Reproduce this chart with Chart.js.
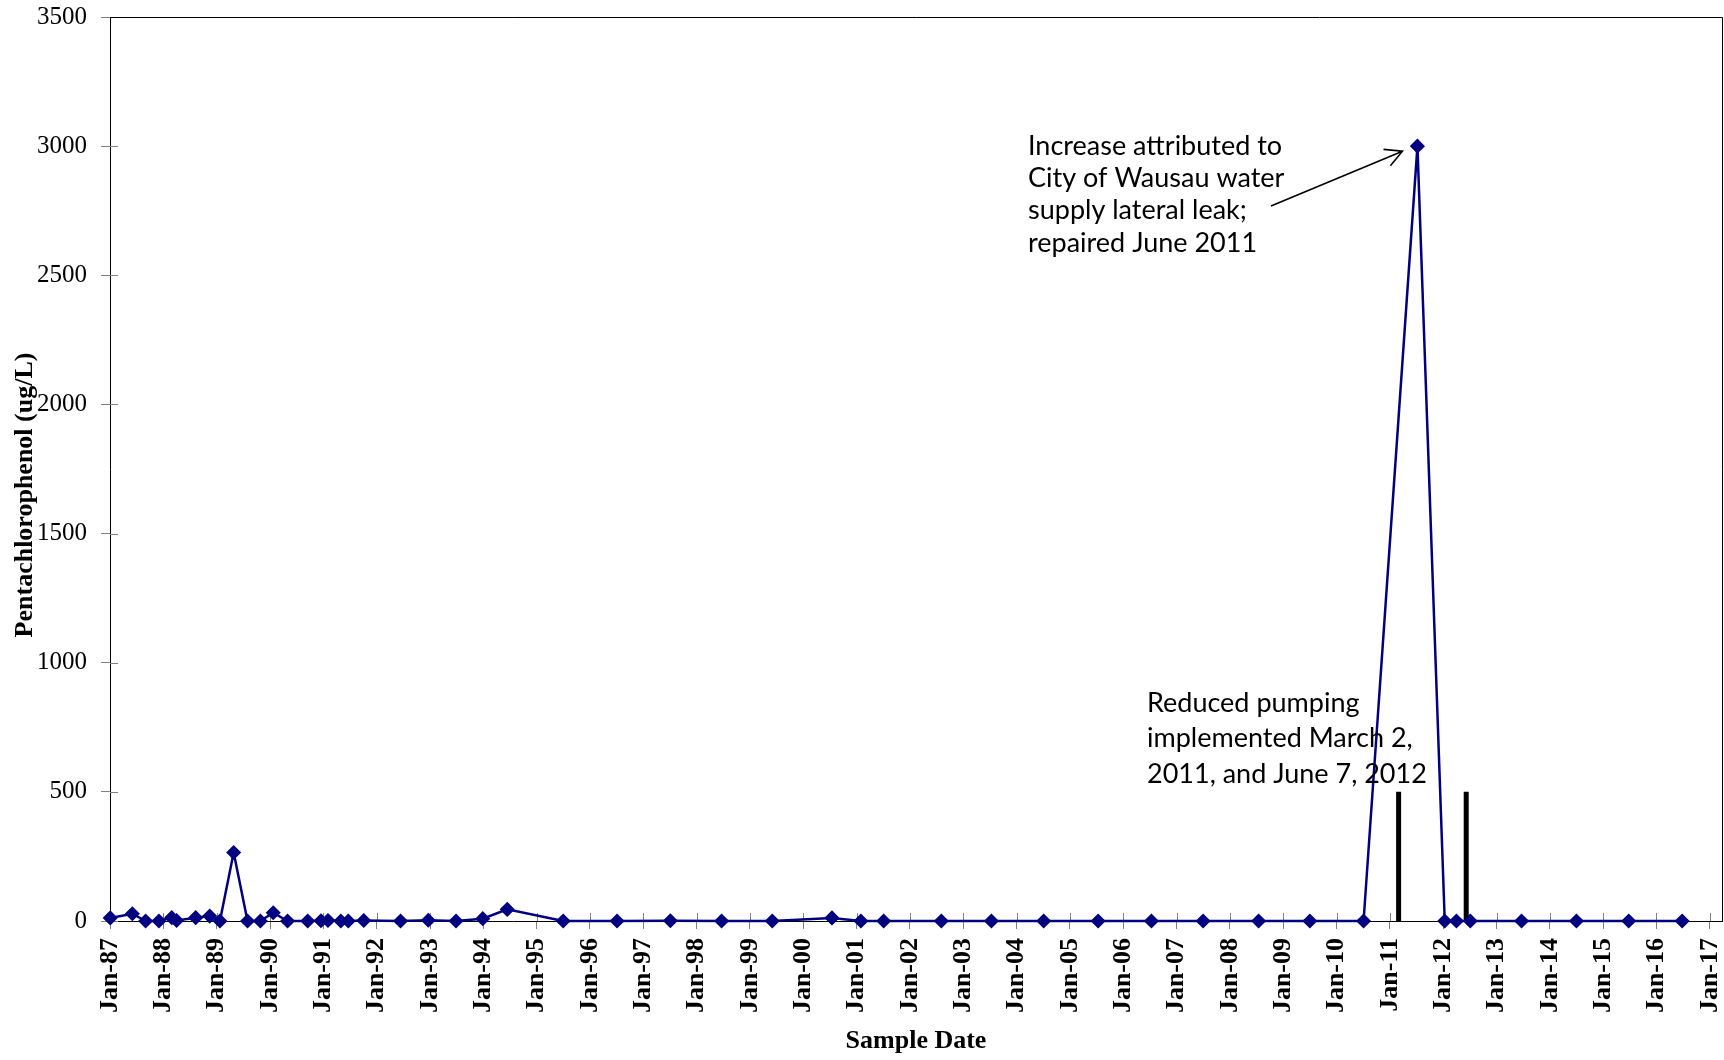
<!DOCTYPE html>
<html>
<head>
<meta charset="utf-8">
<title>Pentachlorophenol</title>
<script src="https://cdn.jsdelivr.net/npm/chart.js@4.4.1/dist/chart.umd.min.js"></script>
<style>
  html, body { margin: 0; padding: 0; background: #fff; overflow: hidden; }
  #wrap { width: 1724px; height: 1060px; position: relative; }
  #pcpChart { display: block; }
</style>
</head>
<body>
<div id="wrap"><canvas id="pcpChart"></canvas></div>
<script>
// Sample dates and pentachlorophenol results (ug/L)
var sampleDates = [
  '1987-01-03', '1987-06-03', '1987-09-02', '1987-12-02',
  '1988-02-28', '1988-04-01', '1988-08-10', '1988-11-14',
  '1989-01-23', '1989-04-27', '1989-07-31', '1989-10-27',
  '1990-01-23', '1990-05-01', '1990-09-16', '1990-12-16',
  '1991-02-02', '1991-05-01', '1991-06-21', '1991-10-05',
  '1992-06-13', '1992-12-20', '1993-06-28', '1993-12-28',
  '1994-06-14', '1995-07-02', '1996-07-05', '1997-07-05',
  '1998-06-21', '1999-06-03', '2000-07-16', '2001-01-30',
  '2001-07-05', '2002-08-04', '2003-07-13', '2004-07-05',
  '2005-07-13', '2006-07-13', '2007-07-02', '2008-07-16',
  '2009-07-02', '2010-07-05', '2011-07-09', '2012-01-12',
  '2012-04-01', '2012-07-05', '2013-06-21', '2014-07-02',
  '2015-06-25', '2016-06-25'
];
var pcp = [
  12, 28, 0, 0,
  13, 2, 13, 19,
  0, 265, 0, 0,
  32, 0, 0, 1,
  2, 0, 0, 2,
  0, 3, 0, 9,
  45, 0, 0, 1,
  0, 0, 12, 0,
  0, 0, 0, 0,
  0, 0, 0, 0,
  0, 0, 3000, 0,
  0, 0, 0, 0,
  0, 0
];

// Reduced pumping start dates, marked with bars up to 500 ug/L
var pumpDates = ['2011-03-02', '2012-06-07'];
var pumpBarTop = 500;

var xTickLabels = [
  'Jan-87', 'Jan-88', 'Jan-89', 'Jan-90', 'Jan-91', 'Jan-92', 'Jan-93', 'Jan-94',
  'Jan-95', 'Jan-96', 'Jan-97', 'Jan-98', 'Jan-99', 'Jan-00', 'Jan-01', 'Jan-02',
  'Jan-03', 'Jan-04', 'Jan-05', 'Jan-06', 'Jan-07', 'Jan-08', 'Jan-09', 'Jan-10',
  'Jan-11', 'Jan-12', 'Jan-13', 'Jan-14', 'Jan-15', 'Jan-16', 'Jan-17'
];
var yTicks = [0, 500, 1000, 1500, 2000, 2500, 3000, 3500];

var leakNote = ['Increase attributed to', 'City of Wausau water', 'supply lateral leak;', 'repaired June 2011'];
var pumpNote = ['Reduced pumping', 'implemented March 2,', '2011, and June 7, 2012'];

function toTime(s) {
  var p = s.split('-');
  return Date.UTC(+p[0], +p[1] - 1, +p[2]);
}
function labelTime(label) {
  var yy = +label.slice(4);
  return Date.UTC(yy > 50 ? 1900 + yy : 2000 + yy, 0, 1);
}

var pcpPoints = sampleDates.map(function (d, i) { return { x: toTime(d), y: pcp[i] }; });
var pumpPoints = [];
pumpDates.forEach(function (d) {
  var t = toTime(d);
  pumpPoints.push({ x: t, y: 0 }, { x: t, y: pumpBarTop }, { x: t, y: null });
});

var serif = 'Liberation Serif, Times New Roman, serif';
var noteFont = 'Lato, Carlito, Calibri, sans-serif';

var extras = {
  id: 'extras',
  beforeDatasetsDraw: function (chart) {
    var ctx = chart.ctx, a = chart.chartArea;
    var xs = chart.scales.x, ys = chart.scales.y;
    ctx.save();
    // inner half of the tick marks
    ctx.strokeStyle = '#808080';
    ctx.lineWidth = 1;
    ctx.beginPath();
    xs.ticks.forEach(function (t) {
      var px = Math.round(xs.getPixelForValue(t.value)) + 0.5;
      ctx.moveTo(px, a.bottom);
      ctx.lineTo(px, a.bottom - 8);
    });
    ys.ticks.forEach(function (t) {
      var py = Math.round(ys.getPixelForValue(t.value)) + 0.5;
      ctx.moveTo(a.left, py);
      ctx.lineTo(a.left + 8, py);
    });
    ctx.stroke();
    // top and right edges of the plot box
    ctx.strokeStyle = '#000';
    ctx.beginPath();
    ctx.moveTo(a.left, Math.round(a.top) + 0.5);
    ctx.lineTo(Math.round(a.right) + 0.5, Math.round(a.top) + 0.5);
    ctx.lineTo(Math.round(a.right) + 0.5, a.bottom);
    ctx.stroke();
    ctx.restore();
  },
  afterDatasetsDraw: function (chart) {
    var ctx = chart.ctx;
    var xs = chart.scales.x, ys = chart.scales.y;
    ctx.save();
    ctx.fillStyle = '#000';
    ctx.textAlign = 'left';
    ctx.textBaseline = 'alphabetic';
    ctx.font = '27px ' + noteFont;
    leakNote.forEach(function (line, i) { ctx.fillText(line, 1028, 155 + i * 32.2); });
    pumpNote.forEach(function (line, i) { ctx.fillText(line, 1147, 711.5 + i * 35.8); });

    // arrow from the note to the peak result
    var iPeak = pcp.indexOf(Math.max.apply(null, pcp));
    var tipX = xs.getPixelForValue(toTime(sampleDates[iPeak])) - 15;
    var tipY = ys.getPixelForValue(pcp[iPeak]) + 5;
    var tailX = 1271, tailY = 206;
    var ang = Math.atan2(tipY - tailY, tipX - tailX);
    var head = 19, spread = 0.49;
    ctx.strokeStyle = '#000';
    ctx.lineWidth = 1.6;
    ctx.beginPath();
    ctx.moveTo(tailX, tailY);
    ctx.lineTo(tipX, tipY);
    ctx.moveTo(tipX - head * Math.cos(ang - spread), tipY - head * Math.sin(ang - spread));
    ctx.lineTo(tipX, tipY);
    ctx.lineTo(tipX - head * Math.cos(ang + spread), tipY - head * Math.sin(ang + spread));
    ctx.stroke();
    ctx.restore();
  },
  afterDraw: function (chart) {
    // y axis title, drawn a little below the axis centre
    var ctx = chart.ctx;
    ctx.save();
    ctx.translate(25, 495);
    ctx.rotate(-Math.PI / 2);
    ctx.font = 'bold 26px ' + serif;
    ctx.fillStyle = '#000';
    ctx.textAlign = 'center';
    ctx.textBaseline = 'middle';
    ctx.fillText('Pentachlorophenol (ug/L)', 0, 0);
    ctx.restore();
  }
};

var ctx = document.getElementById('pcpChart');
var pcpChart = new Chart(ctx, {
  type: 'line',
  data: {
    datasets: [
      {
        label: 'Pentachlorophenol',
        data: pcpPoints,
        borderColor: '#000080',
        backgroundColor: '#000080',
        borderWidth: 2.5,
        pointStyle: 'rectRot',
        pointRadius: 6.5,
        pointBorderWidth: 1.5,
        pointBorderColor: '#000080',
        pointBackgroundColor: '#000080',
        tension: 0,
        fill: false,
        clip: false
      },
      {
        label: 'Reduced pumping',
        data: pumpPoints,
        borderColor: '#000',
        borderWidth: 5,
        pointRadius: 0,
        fill: false,
        spanGaps: false,
        clip: false
      }
    ]
  },
  options: {
    responsive: true,
    maintainAspectRatio: false,
    animation: false,
    devicePixelRatio: 1,
    layout: { autoPadding: false, padding: { left: 0, top: 17, right: 2, bottom: 0 } },
    plugins: {
      legend: { display: false },
      tooltip: { enabled: false }
    },
    scales: {
      x: {
        type: 'linear',
        min: Date.UTC(1987, 0, 1),
        max: Date.UTC(2017, 2, 25),
        afterBuildTicks: function (scale) {
          scale.ticks = xTickLabels.map(function (l) { return { value: labelTime(l) }; });
        },
        afterFit: function (scale) {
          scale.height = 139;
          scale.paddingLeft = 0;
          scale.paddingRight = 0;
        },
        grid: { drawOnChartArea: false, tickLength: 8, color: '#808080' },
        border: { display: true, color: '#000', width: 1 },
        ticks: {
          autoSkip: false,
          minRotation: 90,
          maxRotation: 90,
          padding: 9,
          color: '#000',
          font: { family: serif, size: 26, weight: 'bold' },
          callback: function (v, i) { return xTickLabels[i]; }
        },
        title: {
          display: true,
          text: 'Sample Date',
          color: '#000',
          font: { family: serif, size: 26, weight: 'bold' },
          padding: { top: 0, bottom: 3 }
        }
      },
      y: {
        type: 'linear',
        min: 0,
        max: 3500,
        afterBuildTicks: function (scale) {
          scale.ticks = yTicks.map(function (v) { return { value: v }; });
        },
        afterFit: function (scale) {
          scale.width = 110;
          scale.paddingTop = 0;
          scale.paddingBottom = 0;
        },
        grid: { drawOnChartArea: false, tickLength: 9, color: '#808080' },
        border: { display: true, color: '#000', width: 1 },
        ticks: {
          padding: 14,
          color: '#000',
          font: { family: serif, size: 25 },
          callback: function (v) { return String(v); }
        }
      }
    }
  },
  plugins: [extras]
});
</script>
</body>
</html>
